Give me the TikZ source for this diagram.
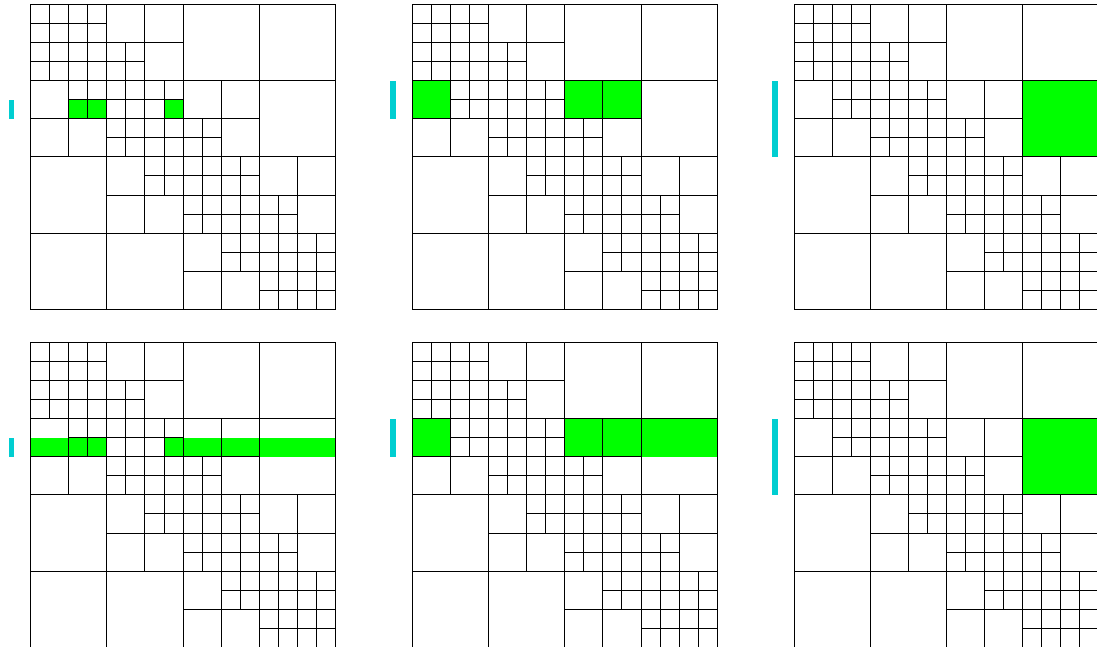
\documentclass[tikz,border=0pt]{standalone}
\usepackage{tikz}
\definecolor{cellgreen}{RGB}{0,255,0}
\definecolor{barcyan}{RGB}{0,206,209}

% quadtree of one panel, in cell units (16 x 16)
\newcommand{\quadgrid}{%
  \foreach \bx/\by/\bn in {0/0/3, 4/2/1, 2/4/1, 4/4/3, 8/6/1, 6/8/1, 8/8/3, 12/10/1, 10/12/1, 12/12/3}
    \foreach \i in {0,...,\bn}
      \foreach \j in {0,...,\bn}
        \draw[cell] (\bx+\i,\by+\j) rectangle ++(1,1);
  \foreach \cx/\cy/\cs in {4/0/2, 6/0/2, 6/2/2, 0/4/2, 0/6/2, 2/6/2, 8/4/2, 10/4/2, 10/6/2,
      4/8/2, 4/10/2, 6/10/2, 12/8/2, 14/8/2, 14/10/2, 8/12/2, 8/14/2, 10/14/2,
      8/0/4, 12/0/4, 12/4/4, 0/8/4, 0/12/4, 4/12/4}
    \draw[cell] (\cx,\cy) rectangle ++(\cs,\cs);
}

\begin{document}
\begin{tikzpicture}[
    x=1pt, y=-1pt,
    panel/.style={x=19.0625pt, y=-19.0625pt},
    cell/.style={draw=black, line width=0.8pt},
    hit/.style={fill=cellgreen},
    bar/.style={fill=barcyan}
]

\useasboundingbox (0,0) rectangle (1097,647);
\clip (0,0) rectangle (1097,647);

% top row
\begin{scope}[xshift=30.5pt, yshift=-4.3pt, panel]
  \fill[hit] (2,5) rectangle (4,6);
  \fill[hit] (7,5) rectangle (8,6);
  \fill[bar] (-1.15,5) rectangle (-0.84,6);
  \quadgrid
\end{scope}

\begin{scope}[xshift=412.2pt, yshift=-4.3pt, panel]
  \fill[hit] (0,4) rectangle (2,6);
  \fill[hit] (8,4) rectangle (12,6);
  \fill[bar] (-1.15,4) rectangle (-0.84,6);
  \quadgrid
\end{scope}

\begin{scope}[xshift=793.9pt, yshift=-4.3pt, panel]
  \fill[hit] (12,4) rectangle (16,8);
  \fill[bar] (-1.15,4) rectangle (-0.84,8);
  \quadgrid
\end{scope}

% bottom row
\begin{scope}[xshift=30.5pt, yshift=-342.3pt, panel]
  \fill[hit] (0,5) rectangle (4,6);
  \fill[hit] (7,5) rectangle (16,6);
  \fill[bar] (-1.15,5) rectangle (-0.84,6);
  \quadgrid
\end{scope}

\begin{scope}[xshift=412.2pt, yshift=-342.3pt, panel]
  \fill[hit] (0,4) rectangle (2,6);
  \fill[hit] (8,4) rectangle (16,6);
  \fill[bar] (-1.15,4) rectangle (-0.84,6);
  \quadgrid
\end{scope}

\begin{scope}[xshift=793.9pt, yshift=-342.3pt, panel]
  \fill[hit] (12,4) rectangle (16,8);
  \fill[bar] (-1.15,4) rectangle (-0.84,8);
  \quadgrid
\end{scope}

\end{tikzpicture}
\end{document}
